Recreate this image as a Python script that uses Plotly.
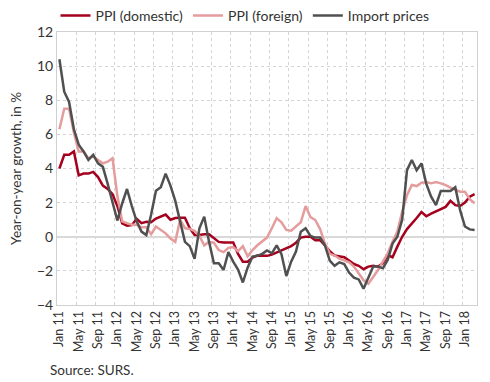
import plotly.graph_objects as go

months = ["Jan", "Feb", "Mar", "Apr", "May", "Jun", "Jul", "Aug", "Sep", "Oct", "Nov", "Dec"]
categories = [f"{m} {y:02d}" for y in range(11, 19) for m in months][:87]

ppi_domestic = [4.0, 4.8, 4.8, 5.0, 3.6, 3.7, 3.7, 3.8, 3.5, 3.0, 2.8, 2.5,
                1.8, 0.78, 0.65, 0.68, 1.05, 0.8, 0.88, 0.85, 1.07, 1.2, 1.3, 1.0,
                1.1, 1.12, 1.12, 0.5, 0.1, 0.1, 0.15, 0.15, -0.05, -0.3, -0.33, -0.33,
                -0.33, -1.0, -1.46, -1.46, -1.22, -1.1, -1.12, -1.12, -1.05, -0.92, -0.77, -0.64,
                -0.55, -0.35, -0.05, 0.0, 0.0, -0.2, -0.2, -0.5, -0.85, -1.1, -1.16, -1.2,
                -1.4, -1.6, -1.7, -1.9, -1.75, -1.7, -1.75, -1.56, -1.07, -1.2, -0.58, 0.0,
                0.45, 0.75, 1.1, 1.45, 1.2, 1.35, 1.5, 1.6, 1.75, 2.1, 1.85, 1.8,
                2.0, 2.35, 2.5]

ppi_foreign = [6.3, 7.5, 7.5, 6.1, 5.0, 5.0, 4.6, 4.7, 4.5, 4.3, 4.4, 4.6,
               2.4, 0.9, 0.8, 0.7, 0.7, 0.55, 0.55, 0.15, 0.6, 0.4, 0.2, -0.1,
               -0.3, 1.0, 0.5, 0.45, 0.35, 0.05, -0.5, -0.3, -0.35, -0.78, -0.9, -0.65,
               -0.6, -0.85, -0.55, -1.15, -0.78, -0.5, -0.3, -0.05, 0.5, 1.08, 0.85, 0.4,
               0.35, 0.6, 0.85, 1.8, 1.15, 0.98, 0.45, -0.4, -1.0, -1.1, -1.28, -1.38,
               -1.5, -1.75, -2.14, -2.55, -2.75, -2.34, -1.95, -1.46, -0.97, -0.3, 0.3, 1.46,
               2.44, 3.03, 2.97, 3.17, 3.19, 3.13, 3.2, 3.13, 3.03, 2.88, 2.74, 2.64,
               2.64, 2.2, 1.96]

import_prices = [10.4, 8.5, 7.9, 6.3, 5.4, 5.0, 4.5, 4.8, 4.3, 4.1, 3.1, 2.0,
                 0.95, 1.95, 2.8, 1.8, 0.9, 0.3, 0.1, 1.3, 2.7, 2.9, 3.7, 3.0,
                 2.1, 0.9, -0.3, -0.55, -1.3, 0.5, 1.18, -0.3, -1.55, -1.55, -1.95, -0.9,
                 -1.46, -1.92, -2.68, -1.8, -1.16, -1.12, -1.0, -0.8, -0.97, -0.5, -1.02, -2.3,
                 -1.46, -0.87, 0.3, 0.5, 0.05, -0.05, -0.05, -0.5, -1.4, -1.7, -1.5, -1.6,
                 -2.1, -2.4, -2.5, -3.05, -2.35, -1.75, -1.75, -1.85, -1.36, -0.4, 0.0, 1.0,
                 3.9, 4.5, 3.9, 4.3, 3.1, 2.35, 1.86, 2.68, 2.68, 2.68, 2.9, 1.56,
                 0.6, 0.43, 0.4]

tick_labels = ["Jan 11", "May 11", "Sep 11", "Jan 12", "May 12", "Sep 12", "Jan 13",
               "May 13", "Sep 13", "Jan 14", "May 14", "Sep 14", "Jan 15", "May 15",
               "Sep 15", "Jan 16", "May 16", "Sep 16", "Jan 17", "May 17", "Sep 17", "Jan 18"]

series = [
    ("PPI (domestic)", ppi_domestic, "#A5001E"),
    ("PPI (foreign)", ppi_foreign, "#E59C9C"),
    ("Import prices", import_prices, "#505050"),
]

x_idx = list(range(len(categories)))
tick_pos = [categories.index(t) for t in tick_labels]
boundaries = [p - 0.5 for p in tick_pos]

fig = go.Figure()
for name, vals, color in series:
    fig.add_trace(go.Scatter(
        x=x_idx, y=vals, mode="lines", name=name,
        line=dict(color=color, width=2.5),
        customdata=categories,
        hovertemplate="%{customdata}: %{y}<extra>" + name + "</extra>",
    ))

font_family = "Lato, 'Open Sans', sans-serif"
fig.update_layout(
    width=490, height=382,
    margin=dict(l=57, r=13, t=32, b=77, autoexpand=False),
    paper_bgcolor="white", plot_bgcolor="white",
    font=dict(family=font_family, size=13, color="#333333"),
    showlegend=True,
    legend=dict(orientation="h", x=0.5, xanchor="center", xref="container",
                y=1.0, yanchor="top", yref="container",
                font=dict(size=14, color="#333333"),
                itemwidth=30, tracegroupgap=0, bgcolor="rgba(0,0,0,0)"),
    annotations=[dict(text="Source: SURS.", xref="paper", yref="paper",
                      x=-0.022, y=-0.238, xanchor="left", yanchor="middle",
                      showarrow=False, font=dict(size=13.5, color="#333333"))],
)

fig.update_xaxes(
    range=[-0.5, len(categories) - 0.5],
    tickmode="array", tickvals=tick_pos, ticktext=tick_labels,
    tickangle=-90, tickfont=dict(size=12.5, color="#333333"),
    showgrid=False, ticks="", zeroline=False, automargin=False,
    showline=True, linecolor="#d0d0d0", linewidth=1, mirror=True,
    minor=dict(tickmode="array", tickvals=boundaries, showgrid=True,
               gridcolor="#d4d4d4", griddash="dot", gridwidth=1, ticks=""),
)
fig.update_yaxes(
    range=[-4, 12], dtick=2, tick0=0, automargin=False,
    tickfont=dict(size=14, color="#333333"),
    showgrid=True, gridcolor="#d4d4d4", griddash="dot", gridwidth=1,
    zeroline=True, zerolinecolor="#d9d9d9", zerolinewidth=2,
    showline=True, linecolor="#d0d0d0", linewidth=1, mirror=True,
    title=dict(text="Year-on-year growth, in %", standoff=12,
               font=dict(size=13.5, color="#333333")),
)

fig.write_html("out.html", config={"displayModeBar": False},
               post_script="document.body.style.margin='0';document.body.style.overflow='hidden';")
